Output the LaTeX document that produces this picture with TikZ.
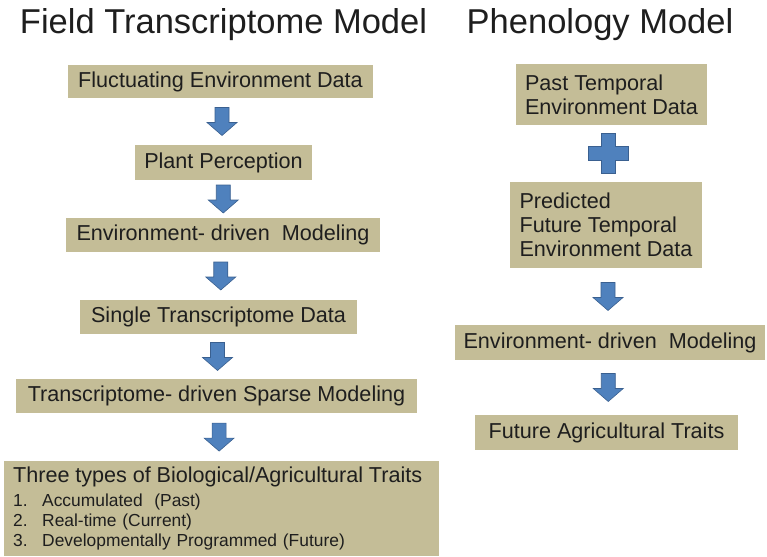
\documentclass[tikz,border=0pt]{standalone}
\usepackage{fontspec}
\setmainfont{Liberation Sans}
\definecolor{boxtan}{RGB}{196,189,151}
\definecolor{arrowblue}{RGB}{79,129,189}
\definecolor{arrowedge}{RGB}{58,96,144}
\definecolor{inktext}{RGB}{30,30,30}
\tikzset{
  titletext/.style={font=\fontsize{34.5}{38}\selectfont, text=inktext, inner sep=0pt, anchor=base},
  stepbox/.style={fill=boxtan, inner sep=0pt, text=inktext,
    font=\fontsize{21.6}{24}\selectfont},
  blockfill/.style={fill=arrowblue, draw=arrowedge, line width=0.6pt, line join=miter},
  downarr/.pic={
    \path[blockfill] (-7,-14) -- (7,-14) -- (7,1) -- (15,1) -- (0,14)
      -- (-15,1) -- (-7,1) -- cycle;
  },
  plussign/.pic={
    \path[blockfill] (-7,-20) -- (7,-20) -- (7,-7) -- (20,-7) -- (20,7)
      -- (7,7) -- (7,20) -- (-7,20) -- (-7,7) -- (-20,7) -- (-20,-7)
      -- (-7,-7) -- cycle;
  }
}
\begin{document}
\begin{tikzpicture}[x=1pt,y=-1pt]
\useasboundingbox (0,0) rectangle (767,556);

% headings
\node[titletext] (tleft) at (223.5,34) {Field Transcriptome Model};
\node[titletext] (tright) at (600,34) {Phenology Model};

% left column: field transcriptome model
\node[stepbox, minimum width=305pt, minimum height=33pt] (b1) at (220.5,81.5) {Fluctuating Environment Data};
\node[stepbox, minimum width=177pt, minimum height=35pt] (b2) at (223.5,162.5) {Plant Perception};
\node[stepbox, minimum width=314pt, minimum height=34pt] (b3) at (223,235) {Environment- driven\ \ Modeling};
\node[stepbox, minimum width=277pt, minimum height=34pt] (b4) at (218.5,317) {Single Transcriptome Data};
\node[stepbox, minimum width=401pt, minimum height=34pt] (b5) at (216.5,396) {Transcriptome- driven Sparse Modeling};
\node[stepbox, anchor=north west, minimum width=435pt, minimum height=95pt,
      inner xsep=9pt, align=left, text width=417pt,
      font=\fontsize{17.4}{20}\selectfont] (b6) at (4,461)
  {{\fontsize{21.6}{24}\selectfont Three types of Biological/Agricultural Traits}\\[4pt]
   \makebox[29pt][l]{1.}Accumulated\ \ (Past)\\
   \makebox[29pt][l]{2.}Real-time (Current)\\
   \makebox[29pt][l]{3.}Developmentally Programmed (Future)};

% right column: phenology model
\node[stepbox, minimum width=191pt, minimum height=61pt, align=left] (r1) at (611.5,94.5) {Past Temporal\\Environment Data};
\node[stepbox, minimum width=192pt, minimum height=86pt, align=left] (r2) at (606,225) {Predicted\\Future Temporal\\Environment Data};
\node[stepbox, minimum width=310pt, minimum height=35pt] (r3) at (610,342.5) {Environment- driven\ \ Modeling};
\node[stepbox, minimum width=263pt, minimum height=35pt] (r4) at (606.5,432.5) {Future Agricultural Traits};

% block arrows halfway between consecutive boxes
\path (b1.south) -- (b2.north) coordinate[pos=0.5] (m1);
\path (b2.south) -- (b3.north) coordinate[pos=0.5] (m2);
\path (b3.south) -- (b4.north) coordinate[pos=0.5] (m3);
\path (b4.south) -- (b5.north) coordinate[pos=0.5] (m4);
\path (b5.south) -- (b6.north) coordinate[pos=0.5] (m5);
\path (r1.south) -- (r2.north) coordinate[pos=0.5] (p1);
\path (r2.south) -- (r3.north) coordinate[pos=0.5] (p2);
\path (r3.south) -- (r4.north) coordinate[pos=0.5] (p3);

\pic at (m1) {downarr};
\pic at (m2) {downarr};
\pic at (m3) {downarr};
\pic at (m4) {downarr};
\pic at (m5) {downarr};
\pic at (p1) {plussign};
\pic at (p2) {downarr};
\pic at (p3) {downarr};
\end{tikzpicture}
\end{document}
